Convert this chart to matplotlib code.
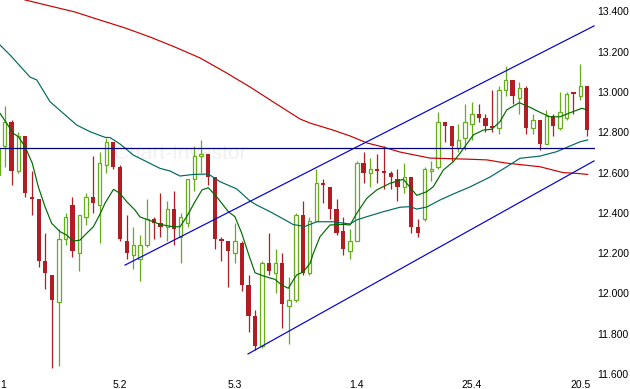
import numpy as np
import matplotlib
matplotlib.use("Agg")
import matplotlib.pyplot as plt

# candle data (daily)
opens = [12.59, 12.73, 12.85, 12.61, 12.78, 12.48, 12.47, 12.16, 12.09, 11.96,
         12.27, 12.44, 12.20, 12.38, 12.48, 12.44, 12.64, 12.75, 12.63, 12.26,
         12.19, 12.17, 12.24, 12.37, 12.35, 12.33, 12.42, 12.28, 12.35, 12.57,
         12.68, 12.69, 12.58, 12.27, 12.26, 12.20, 12.25, 12.04, 11.89, 11.74,
         12.15, 12.10, 12.15, 11.94, 11.97, 12.39, 12.10, 12.36, 12.55, 12.53,
         12.42, 12.31, 12.21, 12.26, 12.65, 12.60, 12.62, 12.61, 12.60, 12.57,
         12.53, 12.58, 12.33, 12.37, 12.61, 12.63, 12.85, 12.83, 12.72, 12.77,
         12.84, 12.89, 12.87, 12.83, 12.82, 13.01, 13.06, 12.97, 13.02, 12.82,
         12.86, 12.74, 12.88, 12.82, 12.87, 13.00, 12.98, 13.03]
highs = [12.74, 12.93, 12.86, 12.80, 12.78, 12.61, 12.47, 12.30, 12.09, 12.32,
         12.40, 12.48, 12.39, 12.50, 12.68, 12.70, 12.77, 12.75, 12.64, 12.39,
         12.33, 12.29, 12.47, 12.38, 12.50, 12.46, 12.51, 12.40, 12.57, 12.73,
         12.76, 12.69, 12.58, 12.28, 12.26, 12.35, 12.26, 12.09, 11.92, 12.16,
         12.30, 12.22, 12.20, 12.08, 12.40, 12.46, 12.38, 12.62, 12.57, 12.53,
         12.47, 12.38, 12.32, 12.66, 12.70, 12.67, 12.69, 12.73, 12.61, 12.62,
         12.65, 12.58, 12.37, 12.63, 12.66, 12.90, 12.85, 12.83, 12.84, 12.94,
         12.95, 12.94, 12.89, 13.01, 13.03, 13.13, 13.06, 13.05, 13.03, 12.89,
         12.86, 12.91, 12.89, 13.00, 13.00, 13.00, 13.14, 13.03]
lows = [12.58, 12.63, 12.54, 12.60, 12.48, 12.39, 12.13, 12.02, 11.63, 11.64,
        12.24, 12.18, 12.11, 12.34, 12.40, 12.25, 12.60, 12.62, 12.26, 12.17,
        12.12, 12.06, 12.23, 12.27, 12.28, 12.26, 12.24, 12.15, 12.33, 12.51,
        12.60, 12.54, 12.22, 12.16, 12.03, 12.15, 12.01, 11.81, 11.72, 11.73,
        12.09, 12.00, 11.83, 11.75, 11.96, 12.09, 12.09, 12.36, 12.45, 12.37,
        12.29, 12.19, 12.17, 12.26, 12.55, 12.53, 12.55, 12.52, 12.52, 12.46,
        12.50, 12.30, 12.28, 12.36, 12.56, 12.62, 12.75, 12.66, 12.70, 12.71,
        12.76, 12.85, 12.80, 12.80, 12.79, 12.98, 12.94, 12.89, 12.79, 12.79,
        12.71, 12.74, 12.78, 12.81, 12.86, 12.89, 12.96, 12.78]
closes = [12.72, 12.85, 12.61, 12.78, 12.50, 12.47, 12.16, 12.10, 11.97, 12.27,
          12.38, 12.21, 12.39, 12.48, 12.45, 12.65, 12.75, 12.63, 12.27, 12.20,
          12.24, 12.24, 12.37, 12.35, 12.33, 12.42, 12.32, 12.38, 12.57, 12.68,
          12.69, 12.58, 12.27, 12.26, 12.21, 12.26, 12.04, 11.89, 11.74, 12.15,
          12.11, 12.15, 11.95, 11.97, 12.39, 12.10, 12.36, 12.55, 12.54, 12.42,
          12.30, 12.22, 12.26, 12.65, 12.60, 12.62, 12.61, 12.60, 12.58, 12.53,
          12.58, 12.33, 12.30, 12.62, 12.62, 12.85, 12.83, 12.73, 12.76, 12.85,
          12.89, 12.87, 12.83, 12.82, 13.01, 13.06, 12.98, 13.02, 12.82, 12.86,
          12.74, 12.88, 12.83, 12.90, 12.99, 12.99, 13.03, 12.81]

# date labels and the candle they sit under
date_labels = ['1', '5.2', '5.3', '1.4', '25.4', '20.5']
date_pos = [0, 18, 35, 53, 70, 86]

# moving averages (x = candle index, y = price)
ma_short_x = [0.3, 2.26, 3.0, 3.99, 5.07, 5.95, 6.94, 7.93, 9.16, 10.15, 11.12, 12.11,
              13.1, 14.08, 15.07, 15.8, 17.06, 18.02, 19.0, 20.24, 20.97, 22.94, 23.93,
              25.9, 26.88, 27.87, 29.1, 30.13, 31.06, 32.3, 34.02, 35.0, 36.0, 36.97,
              37.96, 39.19, 40.92, 41.9, 42.88, 43.62, 44.12, 45.1, 46.09, 46.57, 47.56,
              49.04, 51.0, 52.0, 52.99, 54.46, 55.94, 57.9, 59.87, 61.85, 63.32, 64.3,
              65.78, 67.25, 68.24, 70.21, 71.68, 72.92, 74.15, 75.14, 77.0, 78.58, 80.06,
              81.54, 83.01, 84.49, 86.22, 87.1]
ma_short = [12.894, 12.795, 12.778, 12.729, 12.646, 12.530, 12.431, 12.348, 12.307,
            12.290, 12.260, 12.265, 12.299, 12.331, 12.394, 12.448, 12.517, 12.497,
            12.456, 12.414, 12.380, 12.356, 12.343, 12.331, 12.331, 12.381, 12.456,
            12.514, 12.525, 12.480, 12.406, 12.381, 12.299, 12.199, 12.103, 12.087,
            12.070, 12.042, 12.026, 12.067, 12.092, 12.107, 12.150, 12.199, 12.282,
            12.340, 12.343, 12.340, 12.398, 12.472, 12.514, 12.547, 12.567, 12.487,
            12.505, 12.530, 12.613, 12.654, 12.696, 12.787, 12.811, 12.815, 12.853,
            12.911, 12.947, 12.924, 12.899, 12.877, 12.877, 12.897, 12.919, 12.911]

ma_mid_x = [0.3, 1.77, 3.25, 4.73, 5.72, 7.68, 9.65, 11.63, 13.59, 15.8, 16.54, 18.02,
            19.99, 21.96, 23.93, 25.41, 26.88, 28.85, 31.06, 32.79, 35.26, 37.22, 38.21,
            40.18, 42.14, 43.62, 45.35, 47.08, 49.53, 51.99, 52.98, 54.46, 56.91, 59.38,
            60.86, 61.85, 63.32, 65.28, 67.26, 69.72, 72.67, 75.14, 77.1, 80.06, 82.53,
            84.49, 85.97, 87.1]
ma_mid = [13.233, 13.184, 13.129, 13.074, 13.060, 12.952, 12.894, 12.836, 12.803,
          12.775, 12.774, 12.742, 12.687, 12.654, 12.621, 12.608, 12.583, 12.591,
          12.593, 12.555, 12.519, 12.459, 12.439, 12.406, 12.370, 12.342, 12.333,
          12.356, 12.356, 12.345, 12.365, 12.381, 12.406, 12.428, 12.431, 12.419,
          12.429, 12.464, 12.494, 12.529, 12.578, 12.629, 12.671, 12.682, 12.704,
          12.732, 12.753, 12.762]

ma_long_x = [0.3, 3.99, 7.68, 11.37, 15.07, 18.76, 22.45, 26.14, 29.84, 33.53, 37.22,
             40.92, 44.61, 46.09, 49.48, 51.99, 54.51, 56.87, 59.38, 63.81, 69.13,
             72.23, 74.89, 80.06, 83.46, 85.52, 87.1]
ma_long = [13.496, 13.457, 13.427, 13.397, 13.357, 13.318, 13.273, 13.223, 13.169,
           13.099, 13.025, 12.945, 12.866, 12.846, 12.811, 12.782, 12.747, 12.727,
           12.702, 12.672, 12.667, 12.663, 12.648, 12.629, 12.600, 12.596, 12.591]

# trend channel and horizontal level
chan_up_x = [18.76, 88.04]
chan_up_y = [12.141, 13.328]
chan_lo_x = [36.93, 88.04]
chan_lo_y = [11.700, 12.658]
level = 12.722

GREEN = '#66ad1a'
RED = '#b01e23'

fig = plt.figure(figsize=(6.3, 3.89), dpi=100)
ax = fig.add_axes([0, 1 - 377 / 389, 595 / 630, 377 / 389])

x = np.arange(len(closes))
o = np.array(opens)
c = np.array(closes)
up = c >= o

ax.text(26.9, 12.697, 'Chart-Investor', fontsize=15, color='#f1f1f1',
        ha='center', va='center', family='Liberation Sans', zorder=0)

# wicks
ax.vlines(x[up], np.array(lows)[up], np.array(highs)[up], color=GREEN, lw=0.9, zorder=2)
ax.vlines(x[~up], np.array(lows)[~up], np.array(highs)[~up], color=RED, lw=0.9, zorder=2)

# bodies
body = np.maximum(np.abs(c - o), 0.006)
bottom = np.minimum(o, c)
ax.bar(x[up], body[up], bottom=bottom[up], width=0.5, facecolor='white',
       edgecolor=GREEN, linewidth=0.9, zorder=3)
ax.bar(x[~up], body[~up], bottom=bottom[~up], width=0.62, color=RED,
       linewidth=0, zorder=3)

ax.plot(ma_long_x, ma_long, color='#c80000', lw=0.85, zorder=4)
ax.plot(ma_mid_x, ma_mid, color='#006860', lw=0.85, zorder=4)
ax.plot(ma_short_x, ma_short, color='#006a00', lw=0.85, zorder=4)

ax.plot(chan_up_x, chan_up_y, color='#0000d0', lw=0.85, zorder=5)
ax.plot(chan_lo_x, chan_lo_y, color='#0000d0', lw=0.85, zorder=5)
ax.axhline(level, color='#000080', lw=0.9, zorder=5)

xmin, xmax = 0.295, 88.18
ax.set_xlim(xmin, xmax)
ax.set_ylim(11.5856, 13.4566)

for s in ax.spines.values():
    s.set_visible(False)

yt = np.arange(11.6, 13.41, 0.2)
ax.yaxis.tick_right()
ax.set_yticks(yt)
ax.set_yticklabels(['%.3f' % v for v in yt], fontsize=7.5, family='Liberation Sans')
ax.set_xticks([max(p, xmin) for p in date_pos])
ax.set_xticklabels(date_labels, fontsize=7.5, family='Liberation Sans')
ax.xaxis.get_ticklabels()[0].set_ha('left')
ax.tick_params(axis='y', length=0, pad=1.5)
ax.tick_params(axis='x', length=0, pad=2)

fig.savefig('out.png', dpi=100, facecolor='white')
